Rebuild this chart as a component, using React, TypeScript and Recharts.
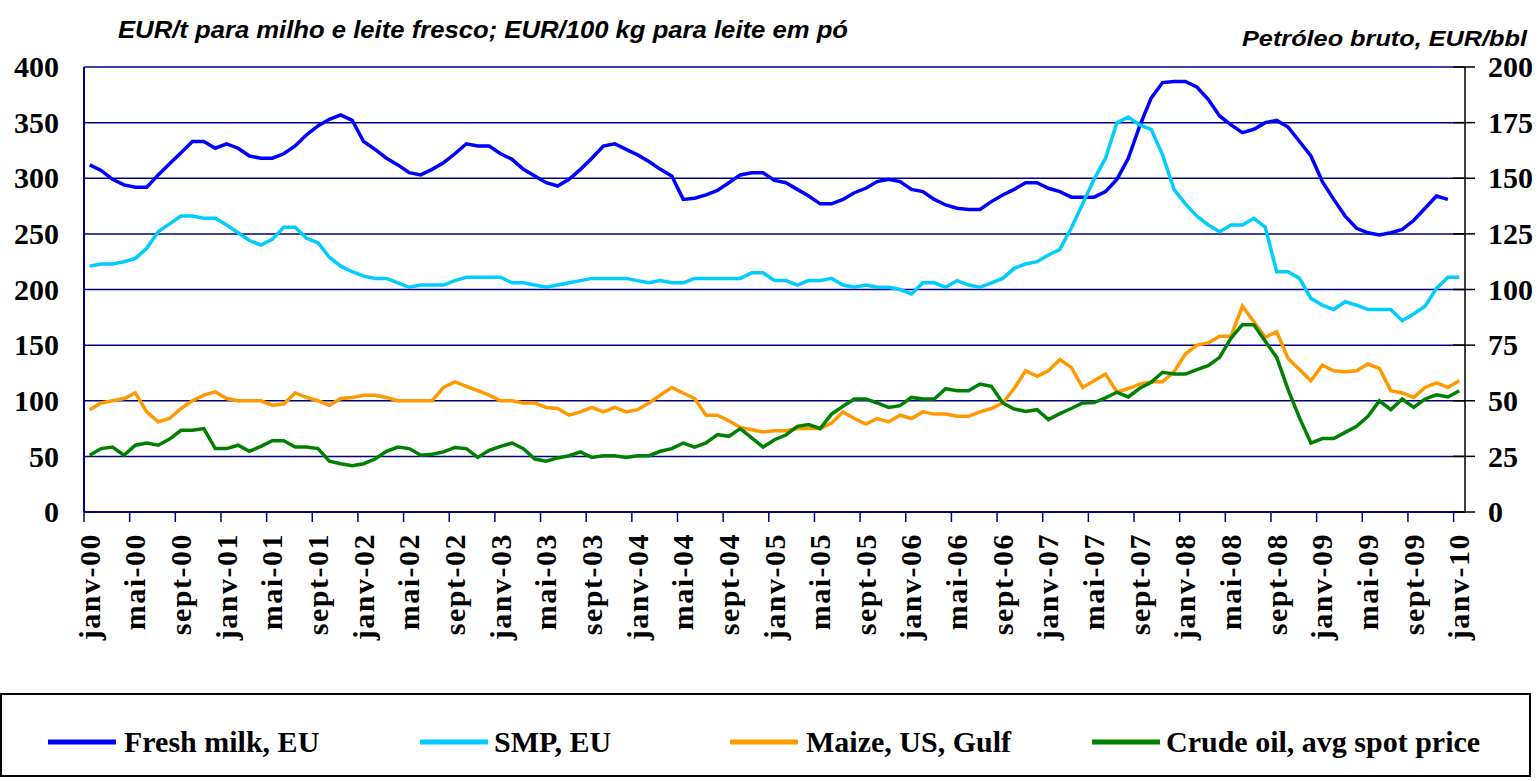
import { CartesianGrid, Line, LineChart, XAxis, YAxis } from 'recharts';

const monthNames = ['janv', 'févr', 'mars', 'avr', 'mai', 'juin', 'juil', 'août', 'sept', 'oct', 'nov', 'déc'];
const years = ['00', '01', '02', '03', '04', '05', '06', '07', '08', '09', '10'];
const months = years.flatMap((y) => monthNames.map((m) => `${m}-${y}`)).slice(0, 121);

// EUR/t
const freshMilk = [
  312, 307, 299, 294, 292, 292, 303, 313, 323, 333, 333, 327,
  331, 327, 320, 318, 318, 322, 329, 339, 347, 353, 357, 352,
  333, 326, 318, 312, 305, 303, 308, 314, 322, 331, 329, 329,
  322, 317, 308, 302, 296, 293, 299, 308, 318, 329, 331, 326,
  321, 315, 308, 302, 281, 282, 285, 289, 296, 303, 305, 305,
  298, 296, 290, 284, 277, 277, 281, 287, 291, 297, 299, 297,
  290, 288, 281, 276, 273, 272, 272, 279, 285, 290, 296, 296,
  291, 288, 283, 283, 283, 288, 299, 318, 347, 372, 386, 387,
  387, 382, 371, 356, 348, 341, 344, 350, 352, 346, 333, 320,
  297, 281, 266, 255, 251, 249, 251, 254, 262, 273, 284, 281,
  null,
];

// EUR/100 kg
const smp = [
  221, 223, 223, 225, 228, 237, 252, 259, 266, 266, 264, 264,
  258, 251, 244, 240, 245, 256, 256, 246, 242, 229, 221, 216,
  212, 210, 210, 206, 202, 204, 204, 204, 208, 211, 211, 211,
  211, 206, 206, 204, 202, 204, 206, 208, 210, 210, 210, 210,
  208, 206, 208, 206, 206, 210, 210, 210, 210, 210, 215, 215,
  208, 208, 204, 208, 208, 210, 204, 202, 204, 202, 202, 200,
  196, 206, 206, 202, 208, 204, 202, 206, 210, 219, 223, 225,
  231, 236, 255, 277, 299, 318, 350, 355, 348, 344, 321, 290,
  277, 266, 258, 252, 258, 258, 264, 256, 216, 216, 210, 192,
  186, 182, 189, 186, 182, 182, 182, 172, 178, 185, 201, 211,
  211,
];

// EUR/t
const maize = [
  92, 98, 100, 102, 107, 90, 81, 84, 93, 100, 105, 108,
  102, 100, 100, 100, 96, 97, 107, 103, 100, 96, 102, 103,
  105, 105, 103, 100, 100, 100, 100, 112, 117, 113, 109, 105,
  100, 100, 98, 98, 94, 93, 87, 90, 94, 90, 94, 90,
  92, 98, 105, 112, 107, 102, 87, 87, 82, 76, 74, 72,
  73, 73, 75, 75, 75, 80, 90, 84, 79, 84, 81, 87,
  84, 90, 88, 88, 86, 86, 90, 93, 98, 111, 127, 122,
  127, 137, 130, 112, 118, 124, 108, 111, 115, 117, 117, 126,
  142, 150, 152, 158, 158, 185, 171, 157, 162, 138, 128, 118,
  132, 127, 126, 127, 133, 129, 109, 107, 103, 112, 116, 112,
  118,
];

// EUR/bbl (right axis)
const crudeOil = [
  25.5, 28.5, 29.2, 25.5, 30, 31, 30, 32.8, 36.7, 36.7, 37.5, 28.5,
  28.5, 30, 27.3, 29.5, 32, 32, 29.2, 29.2, 28.5, 22.8, 21.7, 20.8,
  21.7, 23.8, 27.3, 29.2, 28.5, 25.5, 26, 27, 29, 28.5, 24.5, 27.7,
  29.5, 31, 28.5, 23.8, 22.8, 24.3, 25.3, 27, 24.5, 25.3, 25.3, 24.5,
  25.3, 25.3, 27.3, 28.5, 31, 29.2, 31, 34.8, 34, 37.5, 33.3, 29.2,
  32.5, 34.6, 38.5, 39.3, 37.5, 44, 47.5, 50.8, 50.8, 49, 47, 47.8,
  51.5, 50.8, 50.8, 55.4, 54.5, 54.5, 57.5, 56.5, 49, 46.3, 45.2, 46,
  41.5, 44.2, 46.5, 49, 49.2, 51.3, 53.8, 51.7, 55.6, 58.3, 62.8, 62,
  62, 64, 65.8, 69.5, 78.2, 84.2, 84.2, 76.7, 69.5, 55, 42.3, 31,
  33, 33, 35.8, 38.5, 43, 50, 46, 50.8, 47, 50.8, 52.7, 51.7,
  54.5,
];

const leftTicks = [0, 50, 100, 150, 200, 250, 300, 350, 400];
const rightTicks = [0, 25, 50, 75, 100, 125, 150, 175, 200];
const xTicks = months.map((_, i) => i).filter((i) => i % 4 === 0);

const series = [
  { key: 'milk', name: 'Fresh milk, EU', color: '#0000ff', axis: 'left' },
  { key: 'smp', name: 'SMP, EU', color: '#00ccff', axis: 'left' },
  { key: 'maize', name: 'Maize, US, Gulf', color: '#ff9900', axis: 'left' },
  { key: 'oil', name: 'Crude oil, avg spot price', color: '#008000', axis: 'right' },
];

const data = months.map((label, i) => ({
  idx: i,
  label,
  milk: freshMilk[i],
  smp: smp[i],
  maize: maize[i],
  oil: crudeOil[i],
}));

const NAVY = '#000080';
const SERIF = '"Liberation Serif", "Times New Roman", serif';
const SANS = '"Liberation Sans", Arial, sans-serif';
const PLOT_LEFT = 84;
const PLOT_RIGHT = 1465;
const STEP = (PLOT_RIGHT - PLOT_LEFT) / months.length;

const XTick = ({ x, y, payload }: any) => (
  <g>
    <line x1={x - STEP / 2} x2={x - STEP / 2} y1={y} y2={y + 10} stroke={NAVY} strokeWidth={1.5} />
    <text
      transform={`translate(${x + 10},${y + 21}) rotate(-90)`}
      textAnchor="end"
      fontFamily={SERIF}
      fontWeight="bold"
      fontSize={30}
      letterSpacing={1.5}
      fill="#000"
    >
      {months[payload.value]}
    </text>
  </g>
);

const LeftTick = ({ x, y, payload }: any) => (
  <text x={x} y={y} dy="0.34em" textAnchor="end" fontFamily={SERIF} fontWeight="bold" fontSize={30} fill="#000">
    {payload.value}
  </text>
);

const RightTick = ({ x, y, payload }: any) => (
  <g>
    <line x1={x - 12} x2={x + 10} y1={y} y2={y} stroke="#000" strokeWidth={1.5} />
    <text x={x + 23} y={y} dy="0.34em" textAnchor="start" fontFamily={SERIF} fontWeight="bold" fontSize={30} fill="#000">
      {payload.value}
    </text>
  </g>
);

const legendPos = [
  { line: 48, text: 124 },
  { line: 420, text: 494 },
  { line: 730, text: 806 },
  { line: 1092, text: 1166 },
];

export default function App() {
  return (
    <div style={{ position: 'absolute', left: 0, top: 0, width: 1538, height: 781, background: '#fff' }}>
      <LineChart width={1538} height={700} data={data} margin={{ top: 67, right: 0, bottom: 38, left: 0 }}>
        <CartesianGrid yAxisId="left" vertical={false} stroke={NAVY} strokeWidth={1.5} />
        <XAxis
          dataKey="idx"
          type="number"
          domain={[-0.5, 120.5]}
          ticks={xTicks}
          interval={0}
          height={150}
          tickSize={0}
          tickMargin={0}
          tickLine={false}
          axisLine={{ stroke: NAVY, strokeWidth: 2 }}
          tick={<XTick />}
        />
        <YAxis
          yAxisId="left"
          orientation="left"
          width={84}
          domain={[0, 400]}
          ticks={leftTicks}
          interval={0}
          tickSize={0}
          tickMargin={25}
          tickLine={false}
          axisLine={{ stroke: NAVY, strokeWidth: 2 }}
          tick={<LeftTick />}
        />
        <YAxis
          yAxisId="right"
          orientation="right"
          width={73}
          domain={[0, 200]}
          ticks={rightTicks}
          interval={0}
          tickSize={0}
          tickMargin={0}
          tickLine={false}
          axisLine={{ stroke: '#000', strokeWidth: 1.5 }}
          tick={<RightTick />}
        />
        {series.map((s) => (
          <Line
            key={s.key}
            yAxisId={s.axis}
            type="linear"
            dataKey={s.key}
            name={s.name}
            stroke={s.color}
            strokeWidth={3.5}
            dot={false}
            isAnimationActive={false}
          />
        ))}
      </LineChart>
      <svg width={1538} height={781} style={{ position: 'absolute', left: 0, top: 0, pointerEvents: 'none' }}>
        <text
          x={118}
          y={38}
          fontFamily={SANS}
          fontStyle="italic"
          fontWeight="bold"
          fontSize={24}
          textLength={730}
          lengthAdjust="spacingAndGlyphs"
          fill="#000"
        >
          EUR/t para milho e leite fresco; EUR/100 kg para leite em pó
        </text>
        <text
          x={1242}
          y={46}
          fontFamily={SANS}
          fontStyle="italic"
          fontWeight="bold"
          fontSize={22}
          textLength={285}
          lengthAdjust="spacingAndGlyphs"
          fill="#000"
        >
          Petróleo bruto, EUR/bbl
        </text>
        <rect x={1} y={694} width={1529} height={82} fill="none" stroke="#000" strokeWidth={2} />
        {series.map((s, i) => (
          <g key={s.key}>
            <line
              x1={legendPos[i].line}
              x2={legendPos[i].line + 68}
              y1={742}
              y2={742}
              stroke={s.color}
              strokeWidth={5}
            />
            <text x={legendPos[i].text} y={752} fontFamily={SERIF} fontWeight="bold" fontSize={30} fill="#000">
              {s.name}
            </text>
          </g>
        ))}
      </svg>
    </div>
  );
}
